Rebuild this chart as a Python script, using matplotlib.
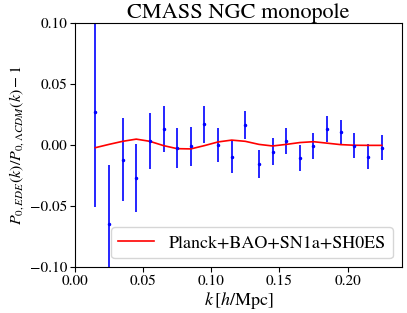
import matplotlib
matplotlib.use("Agg")
import matplotlib.pyplot as plt

plt.rcParams['font.family'] = 'STIXGeneral'
plt.rcParams['mathtext.fontset'] = 'stix'

# measured ratio (points with error bars)
k_data = [0.015, 0.025, 0.035, 0.045, 0.055, 0.065, 0.075, 0.085, 0.095, 0.105, 0.115,
          0.125, 0.135, 0.145, 0.155, 0.165, 0.175, 0.185, 0.195, 0.205, 0.215, 0.225]
ratio = [0.027, -0.065, -0.012, -0.027, 0.003, 0.013, -0.0025, -0.001, 0.017, 0.0, -0.010,
         0.0164, -0.0153, -0.0055, 0.0033, -0.0106, -0.0008, 0.013, 0.0104, -0.0005, -0.0095, -0.0022]
err = [0.078, 0.049, 0.034, 0.028, 0.023, 0.019, 0.0165, 0.016, 0.015, 0.014, 0.013,
       0.0117, 0.0115, 0.011, 0.011, 0.011, 0.0105, 0.0107, 0.0103, 0.010, 0.0103, 0.010]

# model curve
k_model = [0.015, 0.025, 0.035, 0.045, 0.055, 0.065, 0.075, 0.085, 0.095, 0.105, 0.115,
           0.125, 0.135, 0.145, 0.155, 0.165, 0.175, 0.185, 0.195, 0.205, 0.215, 0.225]
model = [-0.0022, 0.0005, 0.0030, 0.0048, 0.0030, -0.0005, -0.0030, -0.0032, -0.0005, 0.0025, 0.0040,
         0.0030, 0.0005, -0.0008, 0.0005, 0.0020, 0.0027, 0.0015, 0.0003, -0.0002, -0.0003, -0.0003]

fig = plt.figure(figsize=(4.07, 3.13), dpi=100)
ax = fig.add_axes([0.184, 0.146, 0.804, 0.7815])

ax.errorbar(k_data, ratio, yerr=err, fmt='.', color='b', markersize=3,
            elinewidth=1.2, capsize=0)
ax.plot(k_model, model, color='r', lw=1.2, label='Planck+BAO+SN1a+SH0ES')

ax.set_xlim(0, 0.24)
ax.set_ylim(-0.1, 0.1)
ax.set_xticks([0.0, 0.05, 0.10, 0.15, 0.20])
ax.set_yticks([-0.10, -0.05, 0.0, 0.05, 0.10])
ax.tick_params(labelsize=11, pad=2)
ax.set_xlabel(r'$k\,[h/{\rm Mpc}]$', fontsize=13, labelpad=1)
ax.set_ylabel(r'$P_{0,EDE}(k)/P_{0,\Lambda CDM}(k)-1$', fontsize=11.5, labelpad=3)
ax.set_title('CMASS NGC monopole', fontsize=16, pad=3)
ax.legend(loc='lower right', fontsize=13)

fig.savefig('out.png', dpi=100)
